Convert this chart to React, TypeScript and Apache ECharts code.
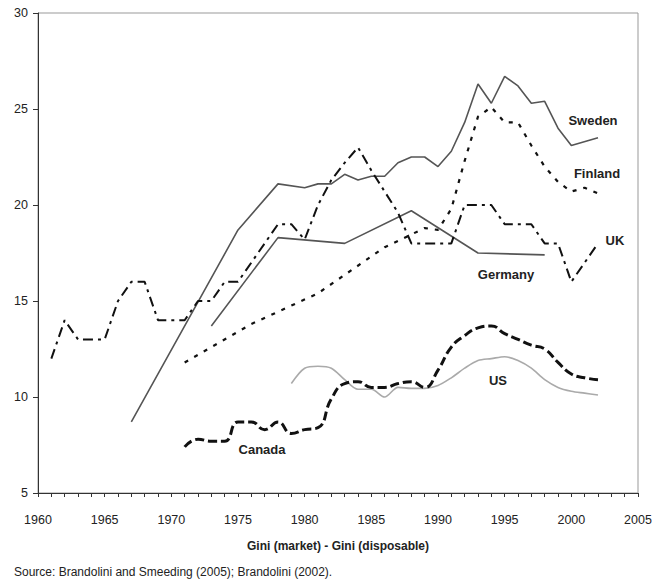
import React, { useEffect, useRef } from "react";
import * as echarts from "echarts";

const swedenYears = [1967, 1975, 1978, 1980, 1981, 1982, 1983, 1984, 1985, 1986, 1987, 1988, 1989, 1990, 1991, 1992, 1993, 1994, 1995, 1996, 1997, 1998, 1999, 2000, 2002];
const swedenValues = [8.7, 18.7, 21.1, 20.9, 21.1, 21.1, 21.6, 21.3, 21.5, 21.5, 22.2, 22.5, 22.5, 22.0, 22.8, 24.3, 26.3, 25.3, 26.7, 26.2, 25.3, 25.4, 24.0, 23.1, 23.5];

const finlandYears = [1971, 1976, 1981, 1986, 1989, 1990, 1991, 1992, 1993, 1994, 1995, 1996, 1997, 1998, 1999, 2000, 2001, 2002];
const finlandValues = [11.8, 13.8, 15.4, 17.8, 18.8, 18.7, 19.8, 22.3, 24.6, 25.1, 24.3, 24.3, 23.1, 22.0, 21.2, 20.7, 20.9, 20.6];

const ukYears = [1961, 1962, 1963, 1964, 1965, 1966, 1967, 1968, 1969, 1970, 1971, 1972, 1973, 1974, 1975, 1976, 1977, 1978, 1979, 1980, 1981, 1982, 1983, 1984, 1985, 1986, 1987, 1988, 1989, 1990, 1991, 1992, 1993, 1994, 1995, 1996, 1997, 1998, 1999, 2000, 2002];
const ukValues = [12, 14, 13, 13, 13, 15, 16, 16, 14, 14, 14, 15, 15, 16, 16, 17, 18, 19, 19, 18.2, 20, 21.3, 22.2, 23, 21.8, 20.7, 19.6, 18, 18, 18, 18, 20, 20, 20, 19, 19, 19, 18, 18, 16, 18];

const germanyYears = [1973, 1978, 1983, 1988, 1993, 1998];
const germanyValues = [13.7, 18.3, 18.0, 19.7, 17.5, 17.4];

const canadaYears = [1971, 1972, 1973, 1974, 1975, 1976, 1977, 1978, 1979, 1980, 1981, 1982, 1983, 1984, 1985, 1986, 1987, 1988, 1989, 1990, 1991, 1992, 1993, 1994, 1995, 1996, 1997, 1998, 1999, 2000, 2001, 2002];
const canadaValues = [7.4, 7.8, 7.7, 7.7, 8.7, 8.7, 8.3, 8.7, 8.1, 8.3, 8.4, 9.9, 10.7, 10.8, 10.5, 10.5, 10.7, 10.8, 10.5, 11.4, 12.6, 13.2, 13.6, 13.7, 13.3, 13.0, 12.7, 12.5, 11.8, 11.2, 11.0, 10.9];

const usYears = [1979, 1980, 1981, 1982, 1983, 1984, 1985, 1986, 1987, 1988, 1989, 1990, 1991, 1992, 1993, 1994, 1995, 1996, 1997, 1998, 1999, 2000, 2001, 2002];
const usValues = [10.7, 11.5, 11.6, 11.5, 10.9, 10.4, 10.4, 10.0, 10.5, 10.45, 10.45, 10.6, 11.0, 11.5, 11.9, 12.0, 12.1, 11.9, 11.5, 10.9, 10.5, 10.3, 10.2, 10.1];

const xTicks = { min: 1960, max: 2005, interval: 5 };
const yTicks = { min: 5, max: 30, interval: 5 };

const xTitle = "Gini (market) - Gini (disposable)";
const sourceText = "Source: Brandolini and Smeeding (2005); Brandolini (2002).";

const pair = (xs: number[], ys: number[]) => xs.map((x, i) => [x, ys[i]]);

const FONT = "Liberation Sans, Arial, sans-serif";

export default function App() {
  const ref = useRef<HTMLDivElement>(null);
  useEffect(() => {
    if (!ref.current) return;
    const chart = echarts.init(ref.current, null, { renderer: "svg" });
    const labelStyle = (text: string, x: number, y: number) => ({
      type: "text",
      x,
      y,
      style: {
        text,
        fontFamily: FONT,
        fontSize: 13,
        fontWeight: "bold",
        fill: "#222",
        textAlign: "center",
        textVerticalAlign: "middle",
      },
    });
    const base = { type: "line", symbol: "none", showSymbol: false, z: 3 };
    chart.setOption({
      animation: false,
      backgroundColor: "#fff",
      grid: { left: 38, top: 13, width: 600, height: 480, show: true, borderColor: "#999", borderWidth: 1 },
      xAxis: {
        type: "value",
        min: xTicks.min,
        max: xTicks.max,
        interval: xTicks.interval,
        axisLine: { show: true, onZero: false, lineStyle: { color: "#333", width: 1 } },
        axisTick: { show: true, length: 4, lineStyle: { color: "#333" } },
        minorTick: { show: true, splitNumber: 5, length: 4, lineStyle: { color: "#333" } },
        splitLine: { show: false },
        axisLabel: { fontFamily: FONT, fontSize: 12.5, color: "#222", margin: 20, formatter: (v: number) => String(v) },
      },
      yAxis: {
        type: "value",
        min: yTicks.min,
        max: yTicks.max,
        interval: yTicks.interval,
        axisLine: { show: true, onZero: false, lineStyle: { color: "#333", width: 1 } },
        axisTick: { show: true, length: 5, lineStyle: { color: "#333" } },
        splitLine: { show: false },
        axisLabel: { fontFamily: FONT, fontSize: 12.5, color: "#222", margin: 10, formatter: (v: number) => String(v) },
      },
      series: [
        { ...base, name: "Sweden", data: pair(swedenYears, swedenValues), lineStyle: { color: "#555", width: 1.6 } },
        { ...base, name: "Germany", data: pair(germanyYears, germanyValues), lineStyle: { color: "#555", width: 1.6 } },
        { ...base, name: "Finland", data: pair(finlandYears, finlandValues), lineStyle: { color: "#111", width: 2.2, type: [4, 7] } },
        { ...base, name: "UK", data: pair(ukYears, ukValues), lineStyle: { color: "#111", width: 2, type: [10, 5, 3, 5] } },
        { ...base, name: "US", data: pair(usYears, usValues), smooth: 0.3, lineStyle: { color: "#aaa", width: 1.6 } },
        { ...base, name: "Canada", data: pair(canadaYears, canadaValues), smooth: 0.5, lineStyle: { color: "#111", width: 3, type: [9, 4] } },
      ],
      graphic: [
        labelStyle("Sweden", 593, 120),
        labelStyle("Finland", 597, 173),
        labelStyle("UK", 615, 240),
        labelStyle("Germany", 506, 274),
        labelStyle("US", 498, 380),
        labelStyle("Canada", 262, 449),
        {
          type: "text",
          x: 338,
          y: 546,
          style: { text: xTitle, fontFamily: FONT, fontSize: 12, fontWeight: "bold", fill: "#222", textAlign: "center", textVerticalAlign: "middle" },
        },
        {
          type: "text",
          x: 14,
          y: 572,
          style: { text: sourceText, fontFamily: FONT, fontSize: 12, fill: "#222", textAlign: "left", textVerticalAlign: "middle" },
        },
      ],
    });
    return () => chart.dispose();
  }, []);
  return <div ref={ref} style={{ position: "absolute", left: 0, top: 0, width: 666, height: 582 }} />;
}
